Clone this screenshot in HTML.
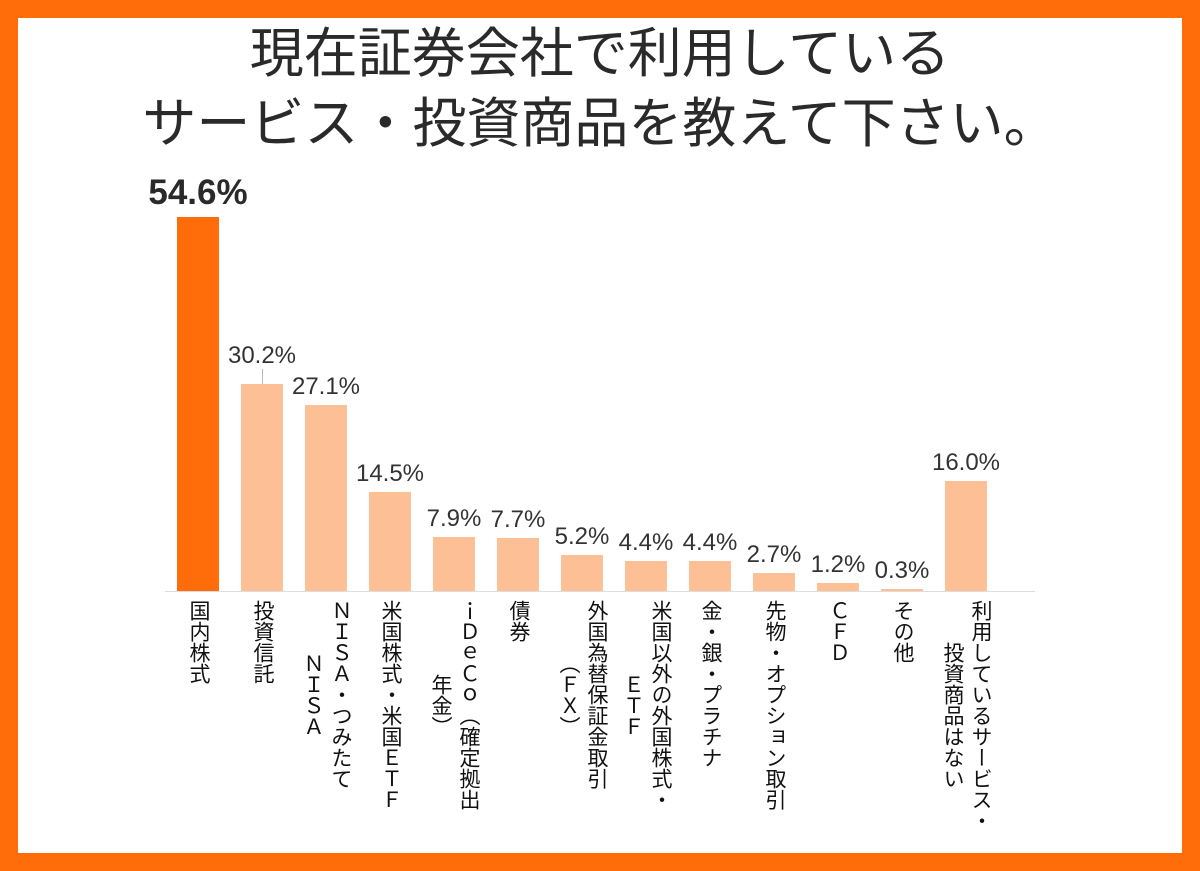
<!DOCTYPE html>
<html><head><meta charset="utf-8"><style>
body{margin:0;width:1200px;height:871px;overflow:hidden;background:#fff;font-family:"Liberation Sans","Noto Sans CJK JP",sans-serif;color:#222}
.frame{position:absolute;left:0;top:0;width:1164px;height:835px;border:18px solid #ff6d0a;background:#fff}
.t{position:absolute;left:0;width:1200px;text-align:center;font-size:54px;line-height:64px;color:#2a2a2a}
.bar{position:absolute;width:42px;background:#fdc095}
.v{position:absolute;width:120px;text-align:center;font-size:24px;line-height:28px;color:#333}
.l{position:absolute;top:600px;writing-mode:vertical-rl;text-align:center;font-size:21px;line-height:28px;letter-spacing:0px;color:#111}
</style></head><body>
<div class="frame"></div>
<div class="t" style="top:22px">現在証券会社で利用している</div>
<div class="t" style="top:92px">サービス・投資商品を教えて下さい。</div>
<div style="position:absolute;left:165px;top:591px;width:870px;height:1px;background:#ddd"></div>
<div id="c"></div>
<script>
var d=[[54.6,"国内株式"],[30.2,"投資信託"],[27.1,"ＮＩＳＡ・つみたて<br>ＮＩＳＡ"],[14.5,"米国株式・米国ＥＴＦ"],[7.9,"ｉＤｅＣｏ（確定拠出<br>年金）"],[7.7,"債券"],[5.2,"外国為替保証金取引<br>（ＦＸ）"],[4.4,"米国以外の外国株式・<br>ＥＴＦ"],[4.4,"金・銀・プラチナ"],[2.7,"先物・オプション取引"],[1.2,"ＣＦＤ"],[0.3,"その他"],[16.0,"利用しているサービス・<br>投資商品はない"]];
var h="";
d.forEach(function(e,i){var cx=198+64*i,ht=Math.max(2,Math.round(e[0]*6.85)),top=591-ht;
h+='<div class="bar" style="left:'+(cx-21)+'px;top:'+top+'px;height:'+ht+'px;'+(i==0?'background:#ff6d0a':'')+'"></div>';
if(i==0)h+='<div class="v" style="left:'+(cx-80)+'px;width:160px;top:173px;font-size:35px;line-height:40px;font-weight:bold;color:#2a2a2a">54.6%</div>';
else h+='<div class="v" style="left:'+(cx-60)+'px;top:'+(i==1?342:top-32)+'px">'+e[0].toFixed(1)+'%</div>';
var cols=e[1].split("<br>").length,w=cols*28;
h+='<div class="l" style="left:'+(cx-w/2)+'px;width:'+w+'px">'+e[1]+'</div>';});
h+='<div style="position:absolute;left:262px;top:369px;width:1px;height:15px;background:#bbb"></div>';
document.getElementById("c").innerHTML=h;
</script>
</body></html>
